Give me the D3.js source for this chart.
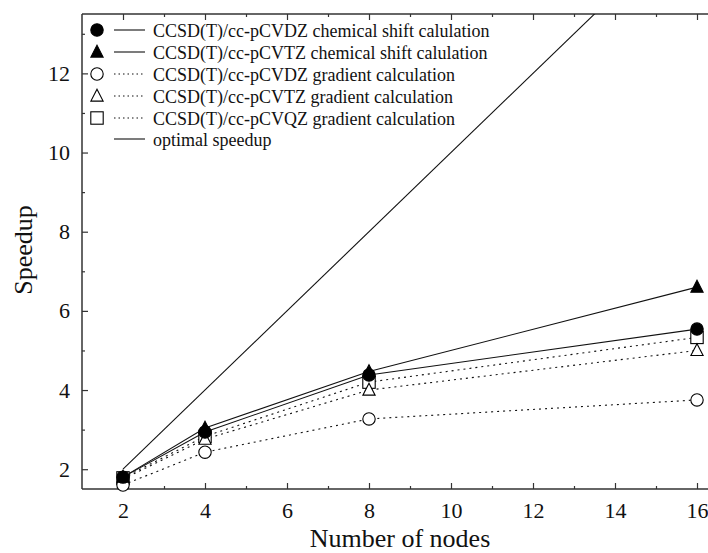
<!DOCTYPE html>
<html>
<head>
<meta charset="utf-8">
<script src="https://cdn.jsdelivr.net/npm/d3@7"></script>
<style>
  html, body { margin: 0; padding: 0; background: #fff; }
  svg { display: block; }
  svg text { font-family: "Liberation Serif", "Times New Roman", serif; }
</style>
</head>
<body>
<svg id="chart" width="708" height="553"></svg>
<script>
// Number of nodes used in each run
const nodes = [2, 4, 8, 16];

// Measured speedups per calculation type
const shiftVDZ = [1.80, 2.94, 4.38, 5.54];
const shiftVTZ = [1.80, 3.04, 4.47, 6.60];
const gradVDZ  = [1.60, 2.43, 3.27, 3.75];
const gradVTZ  = [1.75, 2.76, 4.00, 5.00];
const gradVQZ  = [1.78, 2.83, 4.20, 5.33];

// Ideal (linear) speedup
const optimalX = [2, 17];

const seriesNames = [
  "CCSD(T)/cc-pCVDZ chemical shift calulation",
  "CCSD(T)/cc-pCVTZ chemical shift calulation",
  "CCSD(T)/cc-pCVDZ gradient calculation",
  "CCSD(T)/cc-pCVTZ gradient calculation",
  "CCSD(T)/cc-pCVQZ gradient calculation",
  "optimal speedup"
];

const xTicks = [2, 4, 6, 8, 10, 12, 14, 16];
const yTicks = [2, 4, 6, 8, 10, 12];

const series = [
  { name: seriesNames[0], values: shiftVDZ, symbol: "circle",   filled: true,  dashed: false },
  { name: seriesNames[1], values: shiftVTZ, symbol: "triangle", filled: true,  dashed: false },
  { name: seriesNames[2], values: gradVDZ,  symbol: "circle",   filled: false, dashed: true },
  { name: seriesNames[3], values: gradVTZ,  symbol: "triangle", filled: false, dashed: true },
  { name: seriesNames[4], values: gradVQZ,  symbol: "square",   filled: false, dashed: true }
];

const serif = "'Liberation Serif', 'Times New Roman', serif";
const svg = d3.select("#chart");
const plotLeft = 82, plotTop = 14, plotBottom = 489;

const x = d3.scaleLinear().domain([1, 17]).range([plotLeft, plotLeft + 16 * 41]);
const y = d3.scaleLinear().domain([1.5, 13.5]).range([plotBottom, plotTop]);

svg.append("clipPath").attr("id", "plotclip")
  .append("rect").attr("x", plotLeft).attr("y", plotTop)
  .attr("width", 708 - plotLeft).attr("height", plotBottom - plotTop);

// Axes with inward ticks (major on labelled values, minor on odd values)
const xMinor = d3.range(3, 17, 2);
const yMinor = d3.range(3, 14, 2);

const axisColor = "#333";
const gx = svg.append("g").attr("transform", `translate(0,${plotBottom})`)
  .call(d3.axisBottom(x).tickValues(xTicks).tickSize(-6).tickPadding(13).tickFormat(d3.format("d")));
const gxMinor = svg.append("g").attr("transform", `translate(0,${plotBottom})`)
  .call(d3.axisBottom(x).tickValues(xMinor).tickSize(-3).tickFormat(""));
const gxTop = svg.append("g").attr("transform", `translate(0,${plotTop})`)
  .call(d3.axisTop(x).tickValues(xTicks).tickSize(-6).tickFormat(""));
const gxTopMinor = svg.append("g").attr("transform", `translate(0,${plotTop})`)
  .call(d3.axisTop(x).tickValues(xMinor).tickSize(-3).tickFormat(""));
const gy = svg.append("g").attr("transform", `translate(${plotLeft},0)`)
  .call(d3.axisLeft(y).tickValues(yTicks).tickSize(-6).tickPadding(12).tickFormat(d3.format("d")));
const gyMinor = svg.append("g").attr("transform", `translate(${plotLeft},0)`)
  .call(d3.axisLeft(y).tickValues(yMinor).tickSize(-3).tickFormat(""));

[gx, gxMinor, gxTop, gxTopMinor, gy, gyMinor].forEach(g => {
  g.attr("font-family", serif);
  g.selectAll(".domain").remove();
  g.selectAll(".tick line").attr("stroke", axisColor).attr("stroke-width", 1.2);
  g.selectAll("text").attr("font-family", serif)
    .attr("font-size", 22).attr("fill", "#111");
});

// Frame lines (left, bottom, top)
svg.append("line").attr("x1", plotLeft).attr("x2", plotLeft).attr("y1", plotTop).attr("y2", plotBottom)
  .attr("stroke", axisColor).attr("stroke-width", 1.5);
svg.append("line").attr("x1", plotLeft).attr("x2", 708).attr("y1", plotBottom).attr("y2", plotBottom)
  .attr("stroke", axisColor).attr("stroke-width", 1.5);
svg.append("line").attr("x1", plotLeft).attr("x2", 708).attr("y1", plotTop).attr("y2", plotTop)
  .attr("stroke", axisColor).attr("stroke-width", 1.5);

// Axis titles
svg.append("text").attr("x", 400).attr("y", 547).attr("text-anchor", "middle")
  .attr("font-family", serif).attr("font-size", 26).attr("fill", "#111").text("Number of nodes");
svg.append("text").attr("transform", "translate(32,250) rotate(-90)")
  .attr("text-anchor", "middle").attr("font-family", serif)
  .attr("font-size", 26).attr("fill", "#111").text("Speedup");

const plot = svg.append("g");

// Optimal speedup line
const lineGen = d3.line().x(d => x(d[0])).y(d => y(d[1]));
plot.append("path")
  .attr("clip-path", "url(#plotclip)")
  .attr("d", lineGen(optimalX.map(v => [v, v])))
  .attr("fill", "none").attr("stroke", "#111").attr("stroke-width", 1.1);

// Symbol drawing helper
function drawSymbol(g, sym, filled, cx, cy) {
  const fill = filled ? "#000" : "#fff";
  if (sym === "circle") {
    g.append("circle").attr("cx", cx).attr("cy", cy).attr("r", 6.2)
      .attr("fill", fill).attr("stroke", "#000").attr("stroke-width", 1.1);
  } else if (sym === "triangle") {
    const s = 6.8;
    g.append("path")
      .attr("d", `M${cx},${cy - s}L${cx + s * 0.9},${cy + s * 0.75}L${cx - s * 0.9},${cy + s * 0.75}Z`)
      .attr("fill", fill).attr("stroke", "#000").attr("stroke-width", 1.1);
  } else {
    const s = 6.2;
    g.append("rect").attr("x", cx - s).attr("y", cy - s).attr("width", 2 * s).attr("height", 2 * s)
      .attr("fill", fill).attr("stroke", "#000").attr("stroke-width", 1.1);
  }
}

// Series lines first, then markers on top (reverse order so filled marks sit above)
series.slice().reverse().forEach(s => {
  const pts = nodes.map((n, i) => [n, s.values[i]]);
  plot.append("path").attr("d", lineGen(pts))
    .attr("fill", "none").attr("stroke", "#111")
    .attr("stroke-width", 1.1)
    .attr("stroke-dasharray", s.dashed ? "2,4" : null);
});
series.slice().reverse().forEach(s => {
  const g = plot.append("g");
  nodes.forEach((n, i) => drawSymbol(g, s.symbol, s.filled, x(n), y(s.values[i])));
});

// Legend
const legend = svg.append("g");
const rowY = [30, 52, 74, 96, 118, 139];
seriesNames.forEach((name, i) => {
  const ry = rowY[i];
  const s = series[i];
  if (s) drawSymbol(legend, s.symbol, s.filled, 97, ry);
  legend.append("line").attr("x1", 114).attr("x2", 145).attr("y1", ry).attr("y2", ry)
    .attr("stroke", "#111").attr("stroke-width", 1.1)
    .attr("stroke-dasharray", s && s.dashed ? "1.5,3" : null);
  legend.append("text").attr("x", 153).attr("y", ry + 6.5)
    .attr("font-family", serif)
    .attr("font-size", 18).attr("fill", "#111").text(name);
});
</script>
</body>
</html>
